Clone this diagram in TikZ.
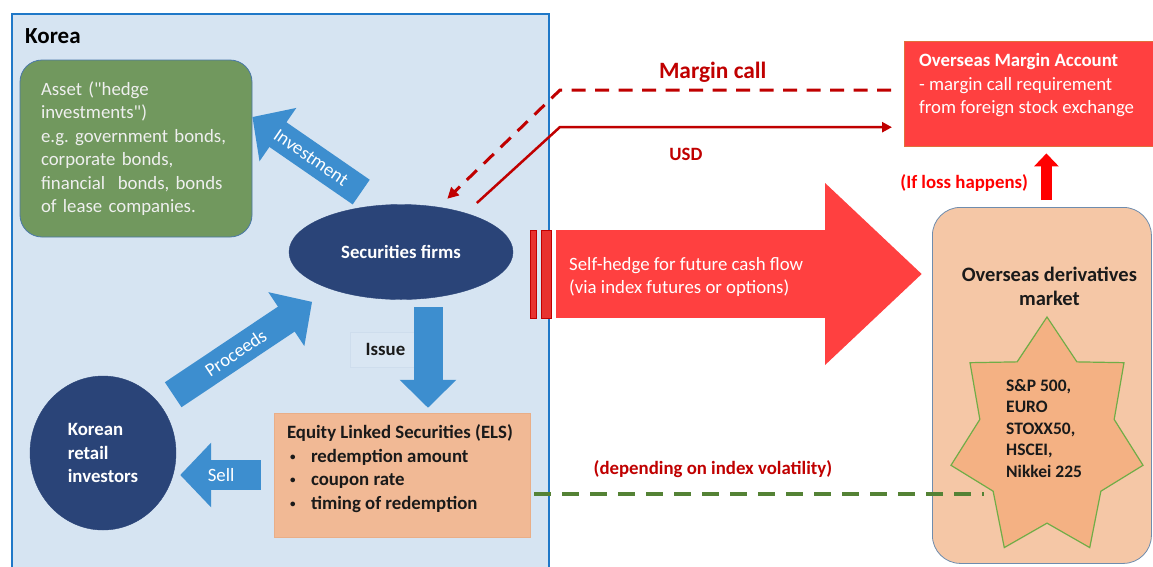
\documentclass[tikz,border=0pt]{standalone}
\usepackage{fontspec}
\setmainfont{Carlito}
\usetikzlibrary{shapes.geometric, arrows.meta, positioning, calc}
\definecolor{koreabg}{HTML}{D6E4F2}
\definecolor{koreaedge}{HTML}{1F78C8}
\definecolor{assetgreen}{HTML}{71985E}
\definecolor{assetedge}{HTML}{4A78A8}
\definecolor{navy}{HTML}{2A4478}
\definecolor{flowblue}{HTML}{3D8ECF}
\definecolor{elsfill}{HTML}{F1B995}
\definecolor{elsedge}{HTML}{E9AE88}
\definecolor{hotred}{HTML}{FF4040}
\definecolor{barred}{HTML}{E8322F}
\definecolor{darkred}{HTML}{C00000}
\definecolor{alarmred}{HTML}{FF0000}
\definecolor{margedge}{HTML}{E0703A}
\definecolor{mktfill}{HTML}{F5C7A6}
\definecolor{mktedge}{HTML}{6F8CAD}
\definecolor{starfill}{HTML}{F4B183}
\definecolor{stargreen}{HTML}{70AD47}
\definecolor{dashgreen}{HTML}{548235}
\definecolor{softwhite}{HTML}{EFEFEF}
\definecolor{ink}{HTML}{1A1A1A}
\definecolor{issuefill}{HTML}{D9E6F3}
\definecolor{issueedge}{HTML}{CEDDED}

\newcommand{\elsitem}[1]{\hspace*{3pt}\makebox[21pt][l]{\raisebox{2pt}{\fontsize{11}{11}\selectfont\textbullet}}#1}

\begin{document}
\begin{tikzpicture}[
    x=1pt, y=-1pt,
    every node/.style={font=\fontsize{18.8}{23.5}\selectfont, inner sep=2pt},
    regionbox/.style={rectangle, draw=koreaedge, line width=2pt, fill=koreabg,
                      minimum width=537pt, minimum height=600pt},
    assetbox/.style={rectangle, draw=assetedge, line width=0.8pt, fill=assetgreen,
                     rounded corners=22pt, text=softwhite, align=left,
                     text width=190pt, minimum width=232pt, minimum height=177pt},
    party/.style={ellipse, fill=navy, draw=navy, text=white, align=left,
                  font=\fontsize{18.8}{23.5}\selectfont\bfseries},
    elsbox/.style={rectangle, draw=elsedge, fill=elsfill,
                   minimum width=256pt, minimum height=124pt},
    margbox/.style={rectangle, draw=margedge, fill=hotred,
                    minimum width=262pt, minimum height=105pt},
    mktbox/.style={rectangle, draw=mktedge, line width=0.8pt, fill=mktfill,
                   rounded corners=28pt, minimum width=219pt, minimum height=356pt},
    burst/.style={star, star points=7, star point ratio=1.43, draw=stargreen,
                  line width=1.2pt, fill=starfill, inner sep=0pt, minimum size=242.6pt},
    issuetag/.style={rectangle, fill=issuefill, draw=issueedge, line width=0.4pt,
                     minimum width=71pt, minimum height=35pt, text=ink,
                     font=\fontsize{18.8}{23.5}\selectfont\bfseries},
    boldtxt/.style={font=\fontsize{18.8}{23.5}\selectfont\bfseries},
    blockarr/.style={draw=flowblue, line width=30pt, -{Triangle[length=31pt,width=63pt]}},
    hedgearr/.style={draw=hotred, line width=88pt, -{Triangle[length=97pt,width=176pt]}},
    lossarr/.style={draw=alarmred, line width=11pt, -{Triangle[length=13pt,width=24pt]}},
    callline/.style={draw=darkred, line width=3pt, dash pattern=on 14pt off 9.5pt,
                     -{Triangle[length=11pt,width=11pt]}},
    cashline/.style={draw=darkred, line width=2.5pt, -{Triangle[length=10pt,width=10pt]}},
    depline/.style={draw=dashgreen, line width=4pt, dash pattern=on 17pt off 11pt},
    lbl/.style={font=\fontsize{18.8}{23.5}\selectfont\bfseries, text=darkred}
]
    \useasboundingbox (0,0) rectangle (1153,566);
    \clip (0,0) rectangle (1153,566);
    \fill[white] (0,0) rectangle (1153,566);

    % Korea side
    \node[regionbox, anchor=north west] (korea) at (10.5,13) {};
    \node[anchor=west, font=\fontsize{23}{27}\selectfont\bfseries] (koreatitle) at (23,36) {Korea};
    \node[assetbox] (asset) at (136,148.5) {\frenchspacing Asset (\textquotedbl hedge\\investments\textquotedbl)\\e.g. government bonds,\\corporate bonds,\\financial\ \ bonds, bonds\\of lease companies.};
    \node[party, minimum width=224pt, minimum height=95pt] (firms) at (401,252) {Securities firms};
    \node[party, minimum width=146pt, minimum height=154pt] (retail) at (103,453) {Korean\\retail\\investors};
    \node[elsbox] (els) at (402,475) {};
    \node[boldtxt, anchor=north west, align=left, text=ink] (elstext) at ([xshift=11pt,yshift=-10pt]els.north west)
        {Equity Linked Securities (ELS)\\\elsitem{redemption amount}\\\elsitem{coupon rate}\\\elsitem{timing of redemption}};
    \node[issuetag] (issuelbl) at (385.5,349.5) {Issue};

    % overseas side
    \node[mktbox, anchor=north west] (market) at (932,207) {};
    \node[below=58pt of market.north, xshift=7.5pt, align=center, text=ink,
          font=\fontsize{20.5}{24}\selectfont\bfseries] (mkttitle) {Overseas derivatives\\market};
    \node[burst, xscale=0.812] (idxstar) at (1047,438.3) {};
    \node[anchor=west, align=left, text=ink, font=\fontsize{17.5}{21.5}\selectfont\bfseries] (idxtext)
        at ([xshift=-43pt,yshift=10pt]idxstar.center) {S\&P 500,\\EURO\\STOXX50,\\HSCEI,\\Nikkei 225};
    \node[margbox, anchor=north west] (marg) at (904,41) {};
    \node[anchor=north west, align=left, text=white] (margtext) at ([xshift=13pt,yshift=-10.5pt]marg.north west)
        {\textbf{Overseas Margin Account}\\- margin call requirement\\from foreign stock exchange};

    % flows inside Korea
    \coordinate (issuetop) at ([xshift=27pt]firms.south);
    \draw[blockarr, shorten <=23pt] (firms.114) -- node[sloped, pos=0.54, text=white] (investlbl) {Investment} ([yshift=31.5pt]asset.east);
    \draw[blockarr] ($(retail.41)!0.08!(firms.208)$) -- node[sloped, pos=0.45, text=white] (proclbl) {Proceeds} ($(retail.41)!0.89!(firms.208)$);
    \draw[blockarr, line width=29pt, -{Triangle[length=28pt,width=55pt]}, shorten <=7.5pt, shorten >=5pt] (issuetop) -- (issuetop |- els.north);
    \draw[blockarr, shorten <=13pt, shorten >=4pt] (els.west) -- node[pos=0.54, text=white] (selllbl) {Sell} (els.west -| retail.east);

    % self-hedge
    \coordinate (hedgetail) at (556,274);
    \foreach \bl/\br in {530/536, 541/551}
        \draw[draw=darkred, fill=barred, line width=0.6pt] (\bl,230) rectangle (\br,318);
    \draw[hedgearr, shorten >=10pt] (hedgetail) -- (market.west |- hedgetail);
    \node[anchor=west, align=left, text=white] (hedgetext) at ([xshift=11pt,yshift=-3pt]hedgetail)
        {Self-hedge for future cash flow\\(via index futures or options)};

    % margin call and USD
    \coordinate (mbend) at (560,90);
    \coordinate (ubend) at (560,127);
    \draw[callline, shorten <=13pt, shorten >=12pt] ([yshift=3.5pt]marg.west)
        -- node[lbl, above=4pt, pos=0.556, font=\fontsize{23.4}{27}\selectfont\bfseries] (calllbl) {Margin call} (mbend) -- (firms.50);
    \draw[cashline, shorten <=15pt, shorten >=12pt] (firms.31) -- (ubend)
        -- node[lbl, below=18pt, pos=0.366] (usdlbl) {USD} ([yshift=-33.5pt]marg.west);

    % loss and volatility
    \coordinate (lossfoot) at ([xshift=4.5pt]market.north);
    \draw[lossarr, shorten <=7pt, shorten >=7pt] (lossfoot)
        -- node[lbl, text=alarmred, left=11pt, pos=0.39] (losslbl) {(If loss happens)} (lossfoot |- marg.south);
    \coordinate (depstart) at ([yshift=-19pt]els.east);
    \draw[depline, shorten <=4pt, shorten >=9pt] (depstart)
        -- node[lbl, above=12.5pt, pos=0.395] (deplbl) {(depending on index volatility)} (depstart -| idxstar.inner point 3);
\end{tikzpicture}
\end{document}
